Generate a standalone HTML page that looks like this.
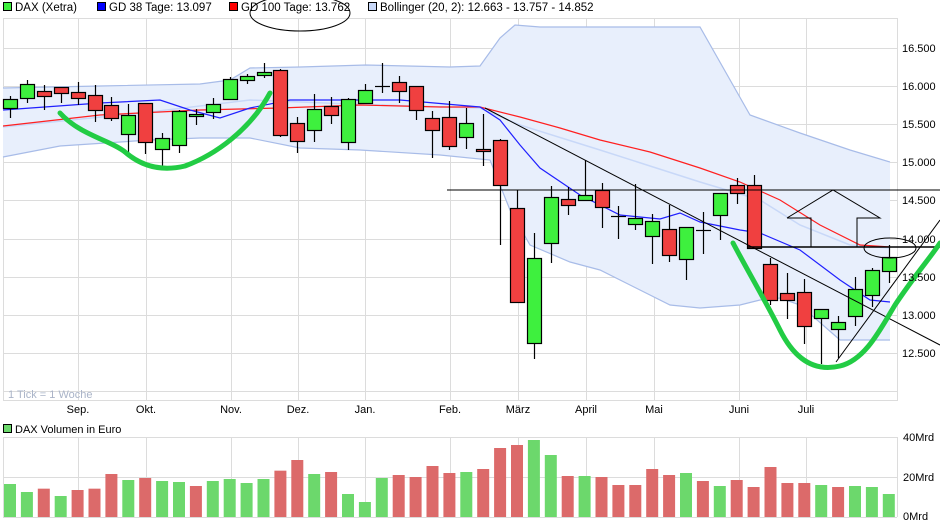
<!DOCTYPE html>
<html><head><meta charset="utf-8"><style>
body{margin:0;background:#fff}
svg{display:block;font-family:"Liberation Sans",sans-serif}
</style></head><body>
<svg id="s" width="940" height="526" xmlns="http://www.w3.org/2000/svg">
<rect width="940" height="526" fill="#fff"/>
<!-- legend -->
<g font-size="11.5" fill="#000">
<rect x="3.5" y="2.5" width="8" height="8" fill="#3ef03e" stroke="#000"/><text x="15" y="11">DAX (Xetra)</text>
<rect x="97.5" y="2.5" width="8" height="8" fill="#0000ff" stroke="#000"/><text x="109" y="11">GD 38 Tage: 13.097</text>
<rect x="229.5" y="2.5" width="8" height="8" fill="#ff0000" stroke="#000"/><text x="241" y="11">GD 100 Tage: 13.762</text>
<rect x="368.5" y="2.5" width="8" height="8" fill="#c8d8f8" stroke="#000"/><text x="380" y="11">Bollinger (20, 2): 12.663 - 13.757 - 14.852</text>
</g>
<g id="grid" stroke="#dcdcdc" stroke-width="1"></g>
<rect x="3.5" y="18.5" width="894" height="382" fill="none" stroke="#dcdcdc"/>
<path id="bb" fill="#e8effc" stroke="none"/>
<polyline id="bbu" fill="none" stroke="#a8bce8" stroke-width="1.2"/>
<polyline id="bbl" fill="none" stroke="#a8bce8" stroke-width="1.2"/>
<polyline id="bbm" fill="none" stroke="#c8d8f8" stroke-width="1.5"/>
<polyline id="ma100" fill="none" stroke="#ff2020" stroke-width="1.2"/>
<polyline id="ma38" fill="none" stroke="#2020ff" stroke-width="1.2"/>
<g id="candles"></g>
<g stroke="#000" stroke-width="1" fill="none">
<line x1="447" y1="190" x2="940" y2="190"/>
<line x1="748" y1="247" x2="940" y2="247" stroke-width="1.5"/>
<line x1="485" y1="108" x2="940" y2="345"/>
<line x1="836" y1="362" x2="940" y2="220"/>
<polyline points="787,218 833,190 880,218 857,218 857,247 811,247 811,218 787,218"/>
<ellipse cx="890" cy="248" rx="26" ry="10"/>
<ellipse cx="300" cy="13" rx="50" ry="18"/>
</g>
<g stroke="#22cc44" stroke-width="5" fill="none" stroke-linecap="round">
<path d="M60,113 C80,135 110,140 125,152 C140,165 160,172 185,166 C215,155 250,130 270,93"/>
<path d="M733,243 C750,275 765,300 780,330 C795,360 815,372 840,366 C865,360 880,330 895,305 C915,275 930,258 940,243"/>
</g>
<g font-size="11" fill="#000" id="yl"></g>
<text x="8" y="398" font-size="11" fill="#aab4c8">1 Tick = 1 Woche</text>
<g font-size="11" fill="#000" text-anchor="middle">
<text x="78" y="413">Sep.</text><text x="146" y="413">Okt.</text><text x="231" y="413">Nov.</text><text x="298" y="413">Dez.</text><text x="365" y="413">Jan.</text><text x="450" y="413">Feb.</text><text x="518" y="413">März</text><text x="586" y="413">April</text><text x="654" y="413">Mai</text><text x="739" y="413">Juni</text><text x="806" y="413">Juli</text>
</g>
<rect x="3.5" y="424.5" width="8" height="8" fill="#6cd86c" stroke="#000"/><text x="15" y="433" font-size="11">DAX Volumen in Euro</text>
<g id="vgrid" stroke="#dcdcdc"></g>
<g id="vol"></g>
<g font-size="11" fill="#000">
<text x="903" y="441">40Mrd</text><text x="903" y="481">20Mrd</text><text x="903" y="520">0Mrd</text>
</g>
</svg>
<script>
var NS="http://www.w3.org/2000/svg";
function el(p,t,a){var e=document.createElementNS(NS,t);for(var k in a)e.setAttribute(k,a[k]);p.appendChild(e);return e;}
var g=document.getElementById('grid');
var mx=[78,146,231,298,365,450,518,586,654,739,806];
mx.forEach(function(x){el(g,'line',{x1:x+.5,y1:18,x2:x+.5,y2:401});});
var py=[48,86,124,162,200,239,277,315,353,391];
py.forEach(function(y){el(g,'line',{x1:3,y1:y+.5,x2:897,y2:y+.5});});
var yl=document.getElementById('yl');
["16.500","16.000","15.500","15.000","14.500","14.000","13.500","13.000","12.500"].forEach(function(t,i){var e=el(yl,'text',{x:902,y:py[i]+4});e.textContent=t;});
var vg=document.getElementById('vgrid');
[437,477,517].forEach(function(y){el(vg,'line',{x1:3,y1:y+.5,x2:897,y2:y+.5});});
mx.forEach(function(x){el(vg,'line',{x1:x+.5,y1:437,x2:x+.5,y2:517});});
el(vg,'line',{x1:3.5,y1:437,x2:3.5,y2:517});el(vg,'line',{x1:897.5,y1:437,x2:897.5,y2:517});
function pts(a){return a.map(function(p){return p[0]+','+p[1]}).join(' ');}
var up=[[3,88],[100,86],[200,84],[230,80],[250,68],[300,67],[366,65],[450,67],[480,66],[500,38],[515,25],[540,27],[700,27],[750,115],[800,133],[850,150],[890,162]];
var lo=[[3,157],[60,146],[150,140],[200,138],[250,138],[300,148],[360,150],[440,155],[490,160],[510,210],[530,245],[570,262],[600,270],[640,290],[670,305],[700,308],[740,305],[760,300],[780,298],[800,305],[840,340],[890,340]];
document.getElementById('bbu').setAttribute('points',pts(up));
document.getElementById('bbl').setAttribute('points',pts(lo));
document.getElementById('bb').setAttribute('d','M'+pts(up)+' L'+pts(lo.slice().reverse())+' Z');
document.getElementById('bbm').setAttribute('points',pts([[3,127],[150,112],[250,100],[350,104],[480,108],[520,125],[600,150],[700,182],[760,200],[800,225],[850,245],[890,248]]));
document.getElementById('ma38').setAttribute('points',pts([[3,110],[100,103],[160,100],[190,110],[220,118],[250,108],[290,100],[330,100],[400,100],[480,107],[500,120],[520,145],[540,168],[580,195],[620,215],[660,219],[680,213],[700,222],[740,230],[760,233],[800,250],[840,280],[870,300],[890,302]]));
document.getElementById('ma100').setAttribute('points',pts([[3,126],[100,115],[200,110],[280,108],[360,105],[440,107],[480,107],[520,117],[560,128],[600,140],[650,152],[700,168],[740,182],[780,200],[820,225],[860,245],[890,247]]));
var C=[['G',99,108,96,118],['G',84,98,80,103],['R',91,96,85,110],['R',87,93,87,103],['R',92,98,82,105],['R',95,110,85,122],['R',105,118,97,121],['G',115,134,104,153],['R',103,142,103,154],['G',138,149,133,168],['G',111,145,110,153],['G',114,116,109,125],['G',104,112,98,119],['G',79,99,77,99],['G',76,80,74,84],['G',72,75,63,78],['R',70,135,69,137],['R',123,141,117,153],['G',109,130,94,142],['R',106,115,97,124],['G',99,142,98,150],['G',90,103,84,103],['X',86,86,63,93],['R',82,91,76,103],['R',86,110,86,120],['R',118,130,111,158],['R',117,146,101,150],['G',123,137,108,149],['R',149,150,114,166],['R',140,185,139,245],['R',208,302,190,302],['G',258,343,233,359],['G',197,243,186,263],['R',199,205,187,215],['G',195,200,160,200],['R',190,207,183,228],['X',216,216,206,239],['G',218,224,184,230],['G',221,236,214,264],['R',229,255,205,262],['G',227,259,227,280],['X',230,230,212,254],['G',193,215,193,240],['R',185,193,178,204],['R',185,248,175,248],['R',264,300,258,305],['R',293,300,273,319],['R',292,326,279,344],['G',309,318,309,364],['G',322,329,316,358],['G',289,316,277,326],['G',270,295,268,307],['G',257,271,245,283]];
var cg=document.getElementById('candles');
C.forEach(function(c,i){var x=Math.round(10+16.9*i);
el(cg,'line',{x1:x+.5,y1:c[3],x2:x+.5,y2:c[4],stroke:'#000','stroke-width':1.2});
if(c[0]=='X'){el(cg,'line',{x1:x-7,y1:c[1]+.5,x2:x+8,y2:c[1]+.5,stroke:'#000','stroke-width':1.2});}
else el(cg,'rect',{x:x-6.5,y:c[1]+.5,width:14,height:Math.max(c[2]-c[1],2),fill:c[0]=='G'?'#3ef03e':'#f04040',stroke:'#000','stroke-width':1.2});});
var V="G312 G336 R326 G348 R330 R326 R282 G300 R294 G303 G306 R318 G303 G297 G309 G297 R272 R240 G282 R276 G342 G366 G294 R285 R291 R258 R279 G276 R267 R204 R195 G180 G225 R288 G288 R291 R315 R315 R267 R285 G279 R303 G318 R300 R321 R261 R309 R309 G315 R321 G318 G321 G342".split(' ');
var vgg=document.getElementById('vol');
V.forEach(function(v,i){var x=10+16.9*i;var top=380+(+v.slice(1))/3;
el(vgg,'rect',{x:x-6,y:top,width:12,height:517-top,fill:v[0]=='G'?'#6cd86c':'#dc6a6a'});});
</script>
</body></html>
